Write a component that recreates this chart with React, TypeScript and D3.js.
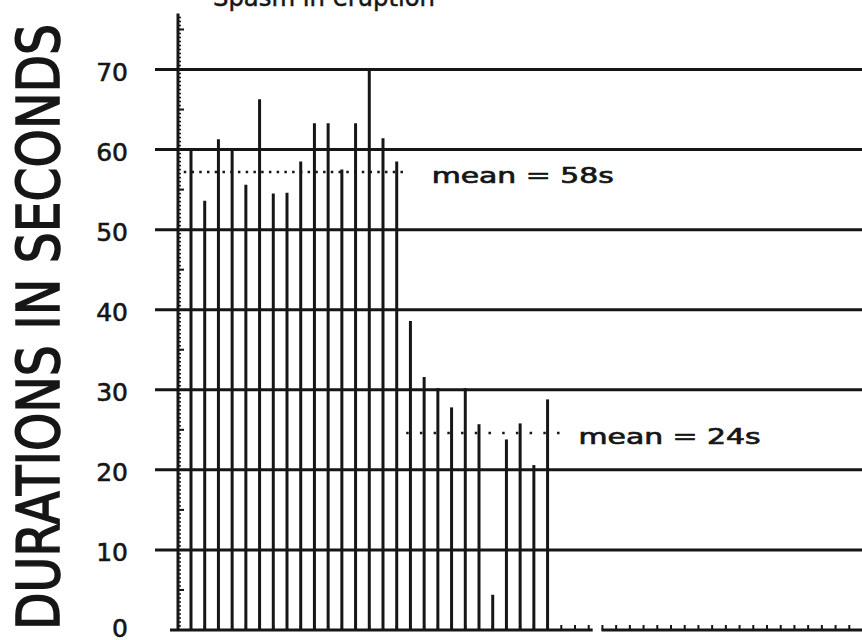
import React from 'react';
import * as d3 from 'd3';

// ---- data ----
const epochs = d3.range(1, 51); // eruption slots along the time axis
const durations = [
  60, 53.6, 61.3, 60, 55.6, 66.3, 54.5, 54.6, 58.5, 63.3, 63.3, 57.5, 63.3, 70, 61.4, 58.5,
  38.6, 31.6, 30.2, 27.8, 30.2, 25.7, 4.4, 23.8, 25.8, 20.6, 28.8,
];
const yTickValues = [0, 10, 20, 30, 40, 50, 60, 70];
const meanValues = [57.2, 24.6];
const meanLabels = ['mean = 58s', 'mean = 24s'];
const meanFirstEpoch = [1, 17];
const meanLastEpoch = [16, 28];
const titleText = 'Spasm in eruption';
const yAxisTitle = 'DURATIONS IN SECONDS';
const axisBreakAfterEpoch = 30;

// ---- layout / style ----
const W = 862;
const H = 640;
const INK = '#161616';
const FONT = '"DejaVu Sans", Verdana, sans-serif';

export default function App() {
  const x = d3.scaleLinear().domain([1, 50]).range([191, 863]);
  const y = d3.scaleLinear().domain([0, 70]).range([630, 69.5]);
  const step = x(2) - x(1);

  const minorTicks = d3.range(0.5, 77, 0.5);
  const midTicks = d3.range(5, 80, 10);

  const dotPeriods = [7.74, step];
  const dotStartOffset = [-6, -3];
  const labelGap = [28, 19];

  return (
    <svg
      width={W}
      height={H}
      viewBox={`0 0 ${W} ${H}`}
      style={{ position: 'absolute', left: 0, top: 0, background: '#fff' }}
    >
      <rect x={0} y={0} width={W} height={H} fill="#fff" />

      {/* title (cropped at top) */}
      <text
        x={213}
        y={6}
        fontFamily={FONT}
        fontSize={24}
        fill={INK}
        stroke={INK}
        strokeWidth={0.5}
        textLength={222}
        lengthAdjust="spacingAndGlyphs"
      >
        {titleText}
      </text>

      {/* y axis title */}
      <text
        transform={`translate(59, 327) rotate(-90)`}
        textAnchor="middle"
        fontFamily={FONT}
        fontSize={59}
        fill={INK}
        stroke={INK}
        strokeWidth={1.6}
        textLength={606}
        lengthAdjust="spacingAndGlyphs"
      >
        {yAxisTitle}
      </text>

      {/* grid lines with left ticks */}
      {yTickValues.filter((v) => v > 0).map((v) => (
        <line key={'g' + v} x1={155} x2={W} y1={y(v)} y2={y(v)} stroke={INK} strokeWidth={3} />
      ))}

      {/* tick labels */}
      {yTickValues.map((v) => (
        <text
          key={'l' + v}
          x={128}
          y={Math.min(y(v) + 11, H - 3)}
          textAnchor="end"
          fontFamily={FONT}
          fontSize={25}
          fill={INK}
          stroke={INK}
          strokeWidth={0.6}
        >
          {v}
        </text>
      ))}

      {/* x axis (with break) */}
      <line x1={170} x2={x(axisBreakAfterEpoch) + 4} y1={y(0)} y2={y(0)} stroke={INK} strokeWidth={3} />
      <line x1={x(axisBreakAfterEpoch + 1) - 1} x2={W} y1={y(0)} y2={y(0)} stroke={INK} strokeWidth={3} />
      {epochs.map((e) => (
        <line key={'xt' + e} x1={x(e)} x2={x(e)} y1={y(0)} y2={y(0) - 5} stroke={INK} strokeWidth={2} />
      ))}

      {/* y axis */}
      <line x1={178} x2={178} y1={y(0) + 1} y2={y(77)} stroke={INK} strokeWidth={3} />
      {minorTicks.map((v) => (
        <line key={'m' + v} x1={178} x2={181} y1={y(v)} y2={y(v)} stroke={INK} strokeWidth={1.5} />
      ))}
      {midTicks.map((v) => (
        <line key={'mt' + v} x1={178} x2={184} y1={y(v)} y2={y(v)} stroke={INK} strokeWidth={2} />
      ))}

      {/* mean dotted lines */}
      {meanValues.map((m, i) => {
        const x1 = x(meanFirstEpoch[i]) + dotStartOffset[i] - 1.25;
        const x2 = x(meanLastEpoch[i]) + (i === 0 ? 7 : dotStartOffset[i] + 1.25);
        return (
          <line
            key={'mean' + i}
            x1={x1}
            x2={x2}
            y1={y(m)}
            y2={y(m)}
            stroke={INK}
            strokeWidth={2.5}
            strokeDasharray={`2.5 ${dotPeriods[i] - 2.5}`}
          />
        );
      })}

      {/* bars */}
      {durations.map((d, i) => (
        <line
          key={'b' + i}
          x1={x(epochs[i])}
          x2={x(epochs[i])}
          y1={y(0)}
          y2={y(d)}
          stroke={INK}
          strokeWidth={3}
        />
      ))}

      {/* mean labels */}
      {meanValues.map((m, i) => (
        <text
          key={'ml' + i}
          x={x(meanLastEpoch[i]) + (i === 0 ? 7 : dotStartOffset[i] + 1.25) + labelGap[i]}
          y={y(m) + 11}
          fontFamily={FONT}
          fontSize={21}
          fill={INK}
          stroke={INK}
          strokeWidth={0.7}
          textLength={182}
          lengthAdjust="spacingAndGlyphs"
        >
          {meanLabels[i]}
        </text>
      ))}
    </svg>
  );
}
